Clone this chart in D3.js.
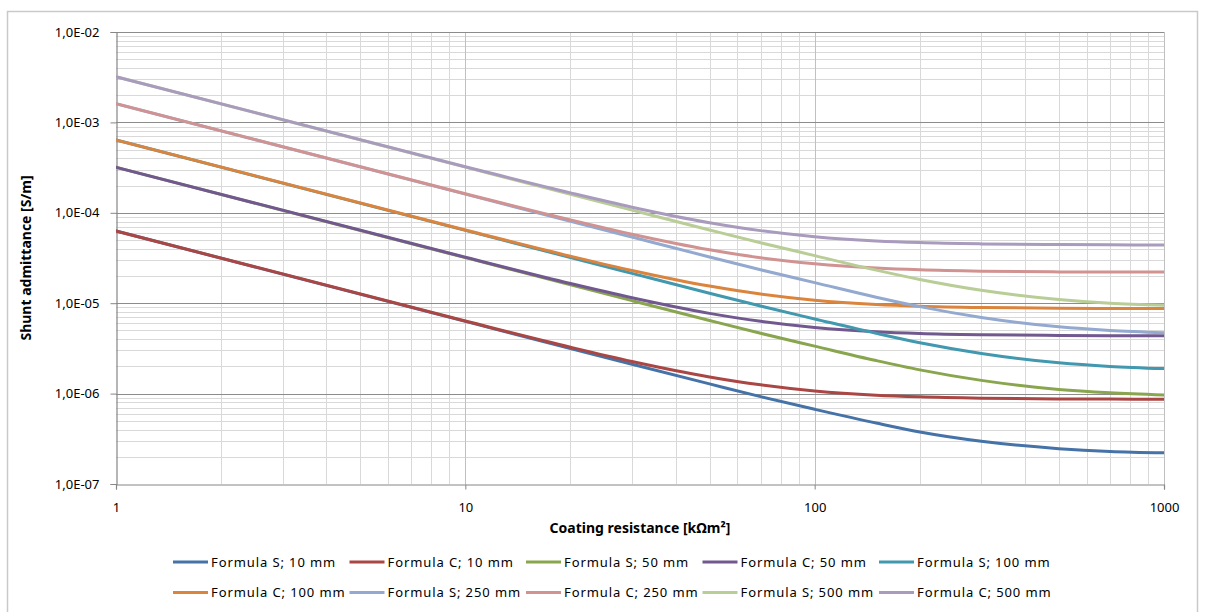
<!DOCTYPE html>
<html lang="en">
<head>
    <meta charset="UTF-8">
    <title>Shunt admittance</title>
    <script src="https://cdn.jsdelivr.net/npm/d3@7/dist/d3.min.js"></script>
    <style>
        body {
            margin: 0;
            background: #fff;
        }

        text {
            font-family: "Noto Sans", sans-serif;
            fill: #000;
        }

        .tick-label {
            font-size: 13px;
        }

        .axis-title {
            font-size: 14px;
            font-weight: bold;
        }

        .legend text {
            font-size: 13px;
            letter-spacing: 0.9px;
        }
    </style>
</head>
<body>
<script>
    // coating resistance [kOhm m2]
    var resistance = [1, 10, 20, 30, 50, 70, 100, 150, 200, 300, 500, 700, 1000];

    // shunt admittance [S/m], estimated from the chart
    var formulaS10 = [6.29e-5, 6.29e-6, 3.15e-6, 2.11e-6, 1.28e-6, 9.25e-7, 6.7e-7, 4.72e-7, 3.76e-7, 2.97e-7, 2.46e-7, 2.29e-7, 2.21e-7];
    var formulaC10 = [6.29e-5, 6.35e-6, 3.26e-6, 2.27e-6, 1.53e-6, 1.25e-6, 1.07e-6, 9.61e-7, 9.2e-7, 8.9e-7, 8.74e-7, 8.7e-7, 8.67e-7];
    var formulaS50 = [3.19e-4, 3.19e-5, 1.6e-5, 1.067e-5, 6.44e-6, 4.65e-6, 3.35e-6, 2.32e-6, 1.83e-6, 1.4e-6, 1.11e-6, 1.02e-6, 9.64e-7];
    var formulaC50 = [3.19e-4, 3.22e-5, 1.65e-5, 1.149e-5, 7.72e-6, 6.3e-6, 5.39e-6, 4.84e-6, 4.63e-6, 4.48e-6, 4.4e-6, 4.37e-6, 4.36e-6];
    var formulaS100 = [6.39e-4, 6.39e-5, 3.2e-5, 2.14e-5, 1.29e-5, 9.3e-6, 6.7e-6, 4.64e-6, 3.65e-6, 2.78e-6, 2.19e-6, 2.0e-6, 1.89e-6];
    var formulaC100 = [6.39e-4, 6.45e-5, 3.31e-5, 2.3e-5, 1.546e-5, 1.261e-5, 1.079e-5, 9.69e-6, 9.27e-6, 8.96e-6, 8.79e-6, 8.75e-6, 8.72e-6];
    var formulaS250 = [1.61e-3, 1.61e-4, 8.06e-5, 5.39e-5, 3.25e-5, 2.34e-5, 1.69e-5, 1.165e-5, 9.17e-6, 6.96e-6, 5.48e-6, 5.0e-6, 4.72e-6];
    var formulaC250 = [1.61e-3, 1.625e-4, 8.35e-5, 5.8e-5, 3.9e-5, 3.18e-5, 2.73e-5, 2.45e-5, 2.34e-5, 2.26e-5, 2.22e-5, 2.21e-5, 2.21e-5];
    var formulaS500 = [3.2e-3, 3.2e-4, 1.6e-4, 1.07e-4, 6.46e-5, 4.66e-5, 3.36e-5, 2.32e-5, 1.83e-5, 1.39e-5, 1.1e-5, 1.0e-5, 9.48e-6];
    var formulaC500 = [3.2e-3, 3.23e-4, 1.66e-4, 1.154e-4, 7.77e-5, 6.35e-5, 5.44e-5, 4.89e-5, 4.68e-5, 4.53e-5, 4.45e-5, 4.42e-5, 4.41e-5];

    var seriesNames = ["Formula S; 10 mm", "Formula C; 10 mm", "Formula S; 50 mm", "Formula C; 50 mm", "Formula S; 100 mm",
        "Formula C; 100 mm", "Formula S; 250 mm", "Formula C; 250 mm", "Formula S; 500 mm", "Formula C; 500 mm"];
    var seriesValues = [formulaS10, formulaC10, formulaS50, formulaC50, formulaS100,
        formulaC100, formulaS250, formulaC250, formulaS500, formulaC500];
    var seriesColors = ["#4572A7", "#AA4643", "#89A54E", "#71588F", "#4198AF",
        "#DB843D", "#93A9CF", "#D19392", "#B9CD96", "#A99BBD"];

    var xTicks = [1, 10, 100, 1000];
    var yTicks = [1e-7, 1e-6, 1e-5, 1e-4, 1e-3, 1e-2];

    var width = 1208;
    var height = 612;
    var padding = {top: 32, right: 44, bottom: 128, left: 116};

    var svg = d3.select("body")
            .append("svg")
            .attr("width", width)
            .attr("height", height);

    // chart border
    svg.append("rect")
            .attr("x", 7.5)
            .attr("y", 11.5)
            .attr("width", 1190)
            .attr("height", 610)
            .attr("fill", "none")
            .attr("stroke", "#c9c9c9")
            .attr("stroke-width", 1.5);

    var x = d3.scaleLog()
            .domain([1, 1000])
            .range([padding.left, width - padding.right]);
    var y = d3.scaleLog()
            .domain([1e-7, 1e-2])
            .range([height - padding.bottom, padding.top]);

    // minor values between the decades
    var xMinor = [];
    xTicks.slice(0, -1).forEach(function (d) {
        for (var k = 2; k < 10; k++) xMinor.push(d * k);
    });
    var yMinor = [];
    yTicks.slice(0, -1).forEach(function (d) {
        for (var k = 2; k < 10; k++) yMinor.push(d * k);
    });

    var grid = svg.append("g").attr("class", "grid");

    grid.selectAll(".xminor")
            .data(xMinor)
            .enter()
            .append("line")
            .attr("x1", function (d) { return Math.round(x(d)) + 0.5; })
            .attr("x2", function (d) { return Math.round(x(d)) + 0.5; })
            .attr("y1", y(1e-2))
            .attr("y2", y(1e-7))
            .attr("stroke", "#d9d9d9");

    grid.selectAll(".yminor")
            .data(yMinor)
            .enter()
            .append("line")
            .attr("x1", x(1))
            .attr("x2", x(1000))
            .attr("y1", function (d) { return Math.round(y(d)) + 0.5; })
            .attr("y2", function (d) { return Math.round(y(d)) + 0.5; })
            .attr("stroke", "#d9d9d9");

    grid.selectAll(".xmajor")
            .data(xTicks.slice(1))
            .enter()
            .append("line")
            .attr("x1", function (d) { return Math.round(x(d)) + 0.5; })
            .attr("x2", function (d) { return Math.round(x(d)) + 0.5; })
            .attr("y1", y(1e-2))
            .attr("y2", y(1e-7))
            .attr("stroke", "#c0c0c0");

    grid.selectAll(".ymajor")
            .data(yTicks.slice(1))
            .enter()
            .append("line")
            .attr("x1", x(1))
            .attr("x2", x(1000))
            .attr("y1", function (d) { return Math.round(y(d)) + 0.5; })
            .attr("y2", function (d) { return Math.round(y(d)) + 0.5; })
            .attr("stroke", "#8c8c8c")
            .attr("stroke-width", 1.2);

    // axes
    function yFormat(v) {
        var e = Math.round(Math.log10(v));
        return "1,0E" + (e < 0 ? "-" : "+") + String(Math.abs(e)).padStart(2, "0");
    }

    var yAxis = svg.append("g")
            .attr("transform", "translate(" + (padding.left + 0.5) + ",0)")
            .call(d3.axisLeft(y).tickValues(yTicks).tickFormat(yFormat).tickSize(6).tickPadding(11));
    var xAxis = svg.append("g")
            .attr("transform", "translate(0," + (height - padding.bottom + 0.5) + ")")
            .call(d3.axisBottom(x).tickValues(xTicks).tickFormat(d3.format("d")).tickSize(5).tickPadding(13));

    [yAxis, xAxis].forEach(function (a) {
        a.select(".domain").attr("stroke", "#868686").attr("stroke-width", 1.2);
        a.selectAll(".tick line").attr("stroke", "#868686");
        a.selectAll(".tick text")
                .attr("class", "tick-label")
                .attr("fill", "#000")
                .style("font-family", "'Noto Sans', sans-serif");
    });

    // series lines
    svg.append("clipPath")
            .attr("id", "plot")
            .append("rect")
            .attr("x", padding.left)
            .attr("y", padding.top - 3)
            .attr("width", width - padding.left - padding.right)
            .attr("height", height - padding.top - padding.bottom + 3);

    var line = d3.line()
            .x(function (d) { return x(d[0]); })
            .y(function (d) { return y(d[1]); })
            .curve(d3.curveMonotoneX);

    svg.append("g")
            .attr("clip-path", "url(#plot)")
            .selectAll("path")
            .data(seriesValues)
            .enter()
            .append("path")
            .attr("d", function (vals) {
                return line(vals.map(function (v, i) { return [resistance[i], v]; }));
            })
            .attr("fill", "none")
            .attr("stroke", function (d, i) { return seriesColors[i]; })
            .attr("stroke-width", 3)
            .attr("stroke-linecap", "round");

    // axis titles
    svg.append("text")
            .attr("class", "axis-title")
            .attr("x", (x(1) + x(1000)) / 2)
            .attr("y", 533)
            .attr("text-anchor", "middle")
            .text("Coating resistance [kΩm²]");

    svg.append("text")
            .attr("class", "axis-title")
            .attr("transform", "translate(31," + (y(1e-7) + y(1e-2)) / 2 + ") rotate(-90)")
            .attr("text-anchor", "middle")
            .text("Shunt admittance [S/m]");

    // legend, 5 items per row
    var legend = svg.append("g")
            .attr("class", "legend")
            .selectAll("g")
            .data(seriesNames)
            .enter()
            .append("g")
            .attr("transform", function (d, i) {
                return "translate(" + (173 + (i % 5) * 176.5) + "," + (562 + Math.floor(i / 5) * 30.5) + ")";
            });

    legend.append("line")
            .attr("x1", 0)
            .attr("x2", 35)
            .attr("stroke", function (d, i) { return seriesColors[i]; })
            .attr("stroke-width", 3);

    legend.append("text")
            .attr("x", 38)
            .attr("dy", "0.35em")
            .text(function (d) { return d; });
</script>
</body>
</html>
